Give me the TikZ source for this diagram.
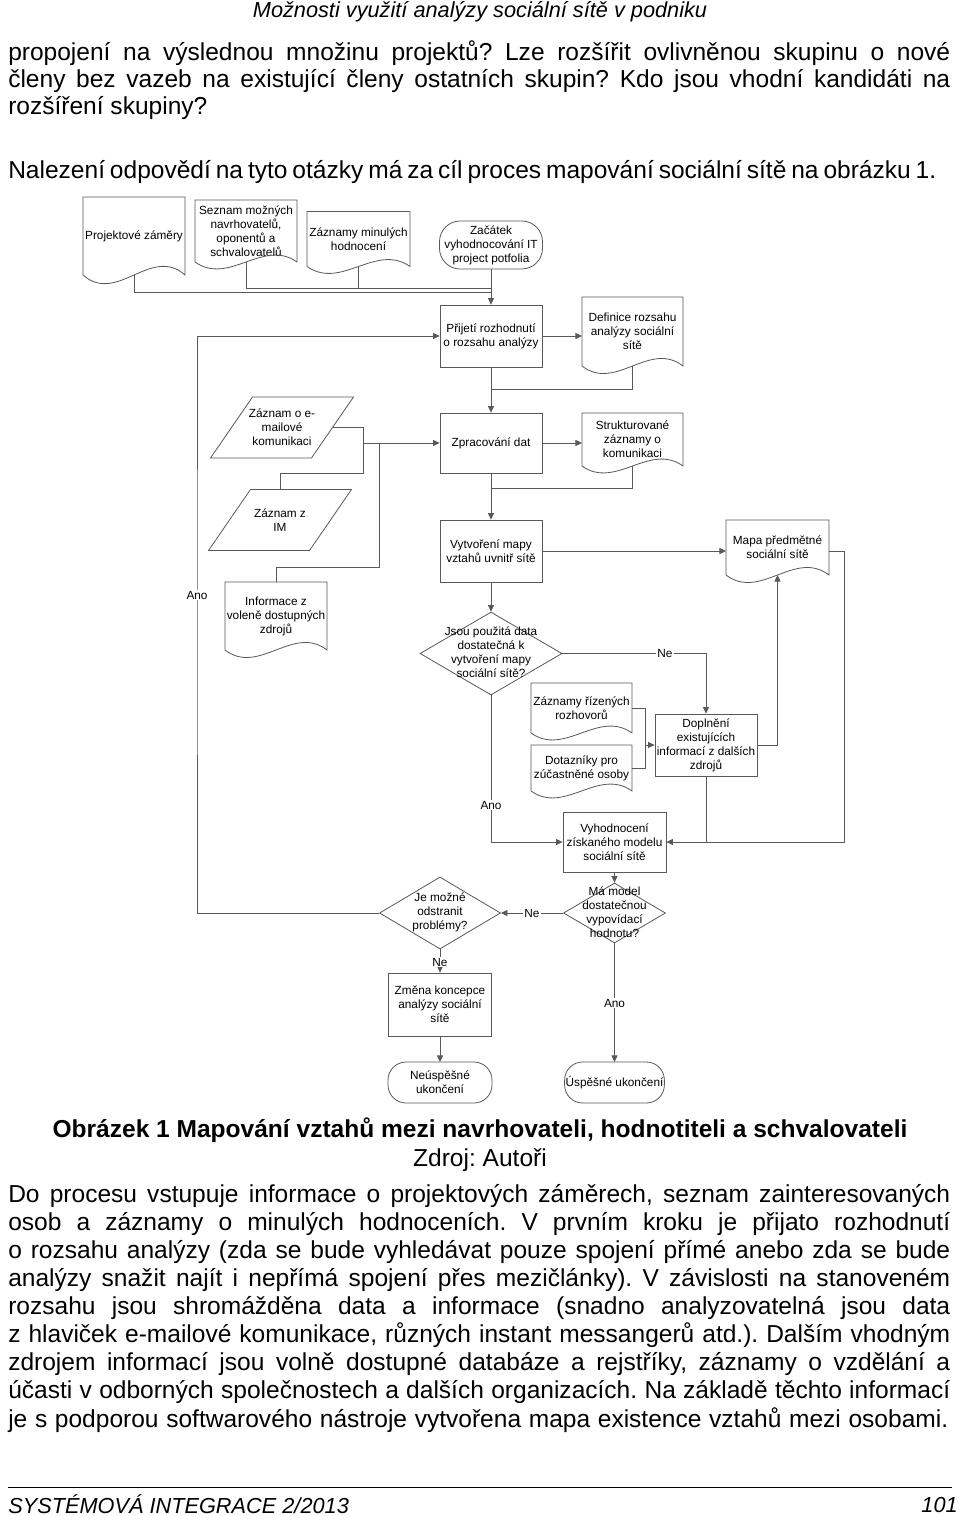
\documentclass[tikz,border=0pt]{standalone}
\usepackage{fontspec}
\setmainfont{Liberation Sans}
\usetikzlibrary{shapes.geometric,arrows.meta,calc}
\frenchspacing
\newdimen\pxu \pxu=0.75pt
\newcommand\bodyfont{\fontsize{18.4}{21}\selectfont}
\newcommand\chartfont{\fontsize{8.85}{10.5}\selectfont}
\newcommand\hdrfont{\fontsize{16.3}{19}\selectfont\itshape}
\newcommand\docout[2]{\draw[shp] (#1.north west) -- (#1.south west)
  .. controls ($(#1.south west)!0.333!(#1.south east)+(0,#2)$) and ($(#1.south west)!0.667!(#1.south east)+(0,-#2)$) .. (#1.south east) -- (#1.north east) -- cycle;}
\newcommand\parout[2]{\draw[shp] ($(#1.north west)+(#2,0)$) -- ($(#1.north east)+(#2,0)$) -- ($(#1.south east)+(-#2,0)$) -- ($(#1.south west)+(-#2,0)$) -- cycle;}
\newcommand\termout[2]{\draw[shp, rounded corners=#2] (#1.north west) rectangle (#1.south east);}
\begin{document}
\begin{tikzpicture}[x=0.75pt,y=-0.75pt,
  shp/.style={draw=black!65, line width=0.6pt},
  ln/.style={draw=black!65, line width=0.6pt},
  arr/.style={ln, -{Triangle[length=4.9pt,width=4.5pt]}},
  box/.style={shp, rectangle, minimum width=76.5pt, minimum height=46.5pt, align=center, font=\chartfont, inner sep=0.75pt},
  plainn/.style={rectangle, align=center, font=\chartfont, inner sep=0.75pt, outer sep=0pt},
  dia/.style={shp, diamond, inner sep=0pt},
  dtext/.style={align=center, font=\chartfont, inner sep=0pt},
  lbl/.style={fill=white, font=\chartfont, inner sep=0.75pt},
  body/.style={font=\bodyfont, inner sep=0pt, anchor=base west}]
\useasboundingbox[fill=white] (0,0) rectangle (960,1516);

% header
\node[font=\hdrfont, inner sep=0pt, anchor=base] (hdr) at (480,18) {Možnosti využití analýzy sociální sítě v podniku};

% top text
\node[body] (t1) at (8,61) {\makebox[942\pxu][s]{propojení na výslednou množinu projektů? Lze rozšířit ovlivněnou skupinu o nové}};
\node[body] (t2) at (8,88) {\makebox[942\pxu][s]{členy bez vazeb na existující členy ostatních skupin? Kdo jsou vhodní kandidáti na}};
\node[body] (t3) at (8,115) {rozšíření skupiny?};
\node[body] (t4) at (8,178) {\makebox[928\pxu][s]{Nalezení odpovědí na tyto otázky má za cíl proces mapování sociální sítě na obrázku 1.}};

% row 1
\node[plainn, minimum width=76.5pt, minimum height=58.5pt] (proj) at (134,236) {Projektové záměry};
\docout{proj}{30}
\node[plainn, minimum width=76.5pt, minimum height=46.5pt] (sez) at (246,231) {Seznam možných\\navrhovatelů,\\oponentů a\\schvalovatelů};
\docout{sez}{24}
\node[plainn, minimum width=77.25pt, minimum height=41.25pt] (zaz) at (358.5,239) {Záznamy minulých\\hodnocení};
\docout{zaz}{24}
\node[plainn, minimum width=77.25pt, minimum height=36pt] (zac) at (491,245) {Začátek\\vyhodnocování IT\\project potfolia};
\termout{zac}{15.5pt}

% row 2
\node[box] (pri) at (491,336) {Přijetí rozhodnutí\\o rozsahu analýzy};
\node[plainn, minimum width=75.75pt, minimum height=51.75pt] (def) at (632.5,331.5) {Definice rozsahu\\analýzy sociální\\sítě};
\docout{def}{26}

\coordinate (j1) at (491,292);
\coordinate (j2) at (491,288);
\draw[ln] (proj.south) |- (j1);
\draw[ln] (sez.south) |- (j2);
\draw[ln] (zaz.south) |- (j2);
\draw[arr] (zac.south) -- (pri.north);
\draw[arr] (pri.east) -- (pri.east -| def.west);

% row 3
\node[plainn, minimum width=75.75pt, minimum height=45.75pt] (email) at (282,427.5) {Záznam o e-\\mailové\\komunikaci};
\parout{email}{21}
\node[box, minimum height=45pt] (zpr) at (491,443) {Zpracování dat};
\node[plainn, minimum width=75.75pt, minimum height=39.75pt] (str) at (632.5,439.5) {Strukturované\\záznamy o\\komunikaci};
\docout{str}{24}
\coordinate (j3) at (491,389);
\draw[ln] (pri.south) -- (j3);
\draw[ln] (def.south) |- (j3);
\draw[arr] (j3) -- (zpr.north);
\draw[arr] (zpr.east) -- (zpr.east -| str.west);

% IM, informace
\node[plainn, minimum width=75.75pt, minimum height=45.75pt] (im) at (280,520) {Záznam z\\IM};
\parout{im}{21}
\node[plainn, minimum width=76.5pt, minimum height=51pt] (inf) at (276,616) {Informace z\\voleně dostupných\\zdrojů};
\docout{inf}{26}
\coordinate (ej) at (363,473);
\coordinate (j4) at (363,443);
\coordinate (ij) at (379,567);
\coordinate (j5) at (379,443);
\draw[ln] (email.east) -| (ej) -| (im.north);
\draw[ln] (inf.north) |- (ij) -- (j5);
\draw[arr] (j4) -- (zpr.west);

% row 4
\node[box] (vyt) at (491,551) {Vytvoření mapy\\vztahů uvnitř sítě};
\coordinate (j6) at (491,488);
\draw[ln] (zpr.south) -- (j6);
\draw[ln] (str.south) |- (j6);
\draw[arr] (j6) -- (vyt.north);
\node[plainn, minimum width=77.25pt, minimum height=41.25pt] (mapa) at (777.5,547.5) {Mapa předmětné\\sociální sítě};
\docout{mapa}{26}
\draw[arr] (vyt.east) -- (vyt.east -| mapa.west);

% decision 1
\node[dia, minimum width=106.5pt, minimum height=62.25pt] (jsou) at (491,653.5) {};
\node[dtext] (jsout) at (491,652) {Jsou použitá data\\dostatečná k\\vytvoření mapy\\sociální sítě?};
\draw[arr] (vyt.south) -- (jsou.north);

\node[plainn, minimum width=75.75pt, minimum height=37.5pt] (rizr) at (581.5,708) {Záznamy řízených\\rozhovorů};
\docout{rizr}{24}
\node[plainn, minimum width=75.75pt, minimum height=34.5pt] (dot) at (581.5,768) {Dotazníky pro\\zúčastněné osoby};
\docout{dot}{24}
\node[box] (dop) at (706,745) {Doplnění\\existujících\\informací z dalších\\zdrojů};
\coordinate (dj) at (645,745);
\draw[ln] (rizr.east) -| (dj);
\draw[ln] (dot.east) -| (dj);
\draw[arr] (dj) -- (dop.west);
\draw[arr] (jsou.east) -| (dop.north);
\node[lbl] (ne1) at (665,653.5) {Ne};
\draw[arr] (dop.east) -| (mapa.south);

% evaluation
\node[box, minimum width=77.25pt, minimum height=45pt] (vyh) at (614.5,842) {Vyhodnocení\\získaného modelu\\sociální sítě};
\coordinate (mj) at (844,842);
\draw[arr] (mapa.east |- vyt.east) -| (mj) -- (vyh.east);
\draw[ln] (dop.south) -- (dop.south |- mj);
\draw[arr] (jsou.south) |- (vyh.west);
\node[lbl] (ano2) at (491,805) {Ano};

\node[dia, minimum width=76.5pt, minimum height=45pt] (mam) at (614.5,913) {};
\node[dtext] (mamt) at (614.5,912) {Má model\\dostatečnou\\vypovídací\\hodnotu?};
\draw[arr] (vyh.south) -- (mam.north);
\node[dia, minimum width=90.75pt, minimum height=54pt] (jem) at (440,913) {};
\node[dtext] (jemt) at (440,912) {Je možné\\odstranit\\problémy?};
\draw[arr] (mam.west) -- (jem.east);
\node[lbl] (ne2) at (532,913) {Ne};

\coordinate (loopx) at (197,600);
\draw[arr] (jem.west) -| (loopx) |- (pri.west);
\node[lbl] (ano1) at (197,595) {Ano};

\node[box, minimum width=77.25pt, minimum height=47.25pt] (zme) at (440,1004.5) {Změna koncepce\\analýzy sociální\\sítě};
\draw[arr] (jem.south) -- (zme.north);
\node[lbl] (ne3) at (440,962) {Ne};
\node[plainn, minimum width=78pt, minimum height=30.75pt] (neu) at (440,1082.5) {Neúspěšné\\ukončení};
\termout{neu}{13.5pt}
\draw[arr] (zme.south) -- (neu.north);
\node[plainn, minimum width=74.25pt, minimum height=30.75pt] (usp) at (614.5,1082.5) {Úspěšné ukončení};
\termout{usp}{13.5pt}
\draw[arr] (mam.south) -- (usp.north);
\node[lbl] (ano3) at (614.5,1003) {Ano};

% caption
\node[font=\bodyfont\bfseries, inner sep=0pt, anchor=base] (cap) at (480,1137) {Obrázek 1 Mapování vztahů mezi navrhovateli, hodnotiteli a schvalovateli};
\node[font=\bodyfont, inner sep=0pt, anchor=base] (src) at (480,1166) {Zdroj: Autoři};

% bottom text
\node[body] (b1) at (8,1202) {\makebox[942\pxu][s]{Do procesu vstupuje informace o projektových záměrech, seznam zainteresovaných}};
\node[body] (b2) at (8,1230) {\makebox[942\pxu][s]{osob a záznamy o minulých hodnoceních. V prvním kroku je přijato rozhodnutí}};
\node[body] (b3) at (8,1258) {\makebox[942\pxu][s]{o rozsahu analýzy (zda se bude vyhledávat pouze spojení přímé anebo zda se bude}};
\node[body] (b4) at (8,1286) {\makebox[942\pxu][s]{analýzy snažit najít i nepřímá spojení přes mezičlánky). V závislosti na stanoveném}};
\node[body] (b5) at (8,1314) {\makebox[942\pxu][s]{rozsahu jsou shromážděna data a informace (snadno analyzovatelná jsou data}};
\node[body] (b6) at (8,1342) {\makebox[942\pxu][s]{z hlaviček e-mailové komunikace, různých instant messangerů atd.). Dalším vhodným}};
\node[body] (b7) at (8,1370) {\makebox[942\pxu][s]{zdrojem informací jsou volně dostupné databáze a rejstříky, záznamy o vzdělání a}};
\node[body] (b8) at (8,1398) {\makebox[942\pxu][s]{účasti v odborných společnostech a dalších organizacích. Na základě těchto informací}};
\node[body] (b9) at (8,1427) {\makebox[940\pxu][s]{je s podporou softwarového nástroje vytvořena mapa existence vztahů mezi osobami.}};

% footer
\coordinate (fl1) at (8,1487);
\coordinate (fl2) at (952,1487);
\draw[line width=0.75pt, black] (fl1) -- (fl2);
\node[font=\hdrfont, inner sep=0pt, anchor=base west] (ftl) at (8,1513) {SYSTÉMOVÁ INTEGRACE 2/2013};
\node[font=\hdrfont, inner sep=0pt, anchor=base east] (ftr) at (958,1512) {101};
\end{tikzpicture}
\end{document}
